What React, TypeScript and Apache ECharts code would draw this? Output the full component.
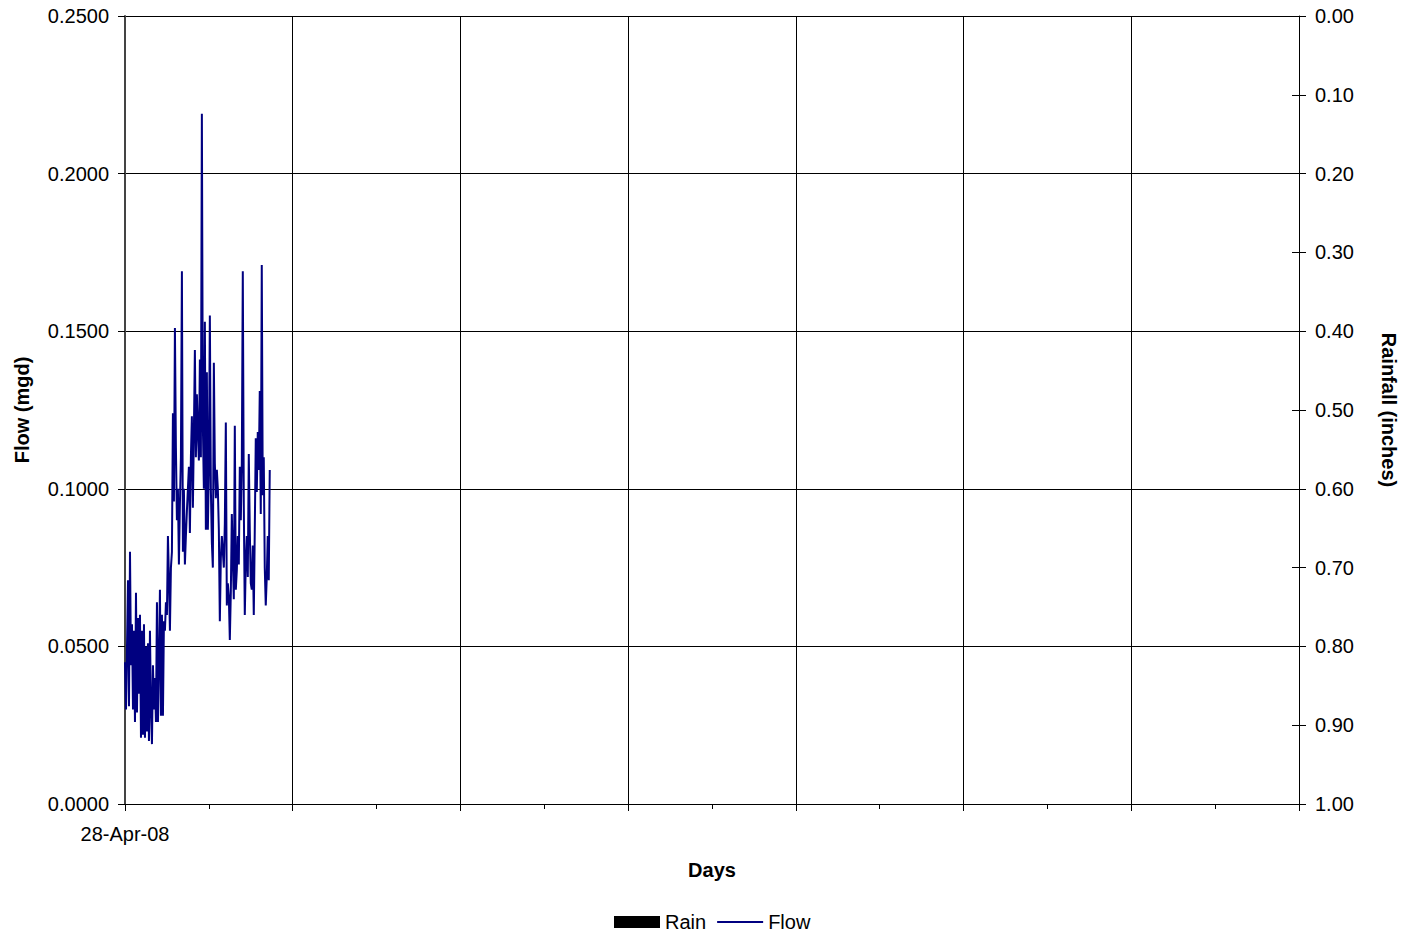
import React, { useEffect, useRef } from "react";
import * as echarts from "echarts";

// Hourly flow readings (mgd), starting 28-Apr-08 00:00
const flowValues: number[] = [
  0.045, 0.030, 0.050, 0.071, 0.031, 0.080, 0.044, 0.057, 0.030, 0.055,
  0.026, 0.067, 0.029, 0.059, 0.035, 0.060, 0.021, 0.055, 0.022, 0.057,
  0.021, 0.050, 0.023, 0.051, 0.020, 0.055, 0.030, 0.019, 0.044, 0.030,
  0.040, 0.026, 0.064, 0.026, 0.045, 0.068, 0.028, 0.060, 0.028, 0.058,
  0.055, 0.064, 0.060, 0.085, 0.072, 0.055, 0.075, 0.080, 0.124, 0.096,
  0.151, 0.113, 0.090, 0.100, 0.076, 0.095, 0.110, 0.169, 0.080, 0.100,
  0.076, 0.085, 0.093, 0.100, 0.107, 0.086, 0.110, 0.123, 0.094, 0.118,
  0.144, 0.110, 0.130, 0.118, 0.109, 0.141, 0.110, 0.219, 0.120, 0.100,
  0.153, 0.087, 0.137, 0.087, 0.106, 0.155, 0.100, 0.083, 0.075, 0.140,
  0.108, 0.097, 0.106, 0.100, 0.087, 0.058, 0.078, 0.085, 0.080, 0.075,
  0.089, 0.121, 0.063, 0.070, 0.066, 0.052, 0.067, 0.092, 0.078, 0.065,
  0.120, 0.068, 0.074, 0.085, 0.076, 0.107, 0.090, 0.108, 0.169, 0.095,
  0.060, 0.077, 0.085, 0.072, 0.111, 0.087, 0.070, 0.068, 0.082, 0.060,
  0.087, 0.116, 0.099, 0.118, 0.106, 0.131, 0.092, 0.171, 0.098, 0.110,
  0.075, 0.063, 0.072, 0.085, 0.071, 0.106,
];

// Daily rainfall (inches) – no rain recorded
const rainDays: number[] = [0, 1, 2, 3, 4, 5];
const rainValues: number[] = [0, 0, 0, 0, 0, 0];

const startLabel = "28-Apr-08";
const hoursPerDay = 24;
const axisDays = 49;
const majorDays = 7;

const flowTicks: number[] = [0, 0.05, 0.1, 0.15, 0.2, 0.25];
const rainTicks: number[] = [0, 0.1, 0.2, 0.3, 0.4, 0.5, 0.6, 0.7, 0.8, 0.9, 1.0];

export default function App() {
  const ref = useRef<HTMLDivElement>(null);
  useEffect(() => {
    document.body.style.margin = "0";
    const chart = echarts.init(ref.current!, null, { renderer: "svg" });
    const font = "Liberation Sans, Arial, sans-serif";
    const fs = 20;
    chart.setOption({
      animation: false,
      backgroundColor: "#ffffff",
      textStyle: { fontFamily: font },
      grid: { left: 125, right: 107, top: 16, bottom: 134, containLabel: false },
      legend: {
        left: 609,
        top: 907,
        itemWidth: 46,
        itemHeight: 12,
        itemGap: 10,
        textStyle: { fontSize: fs, color: "#000", fontFamily: font },
        data: [
          { name: "Rain", icon: "rect", itemStyle: { color: "#000" } },
          {
            name: "Flow",
            itemStyle: { opacity: 0 },
            lineStyle: { color: "#000080", width: 2, opacity: 1 },
          },
        ],
      },
      xAxis: {
        type: "value",
        min: 0,
        max: axisDays * hoursPerDay,
        interval: majorDays * hoursPerDay,
        name: "Days",
        nameLocation: "middle",
        nameGap: 56,
        nameTextStyle: { fontSize: fs, fontWeight: "bold", color: "#000", fontFamily: font },
        axisLine: { show: true, lineStyle: { color: "#000", width: 1 } },
        axisTick: { show: true, inside: false, length: 7, lineStyle: { color: "#000" } },
        minorTick: { show: true, splitNumber: 2, length: 5, lineStyle: { color: "#000" } },
        axisLabel: {
          margin: 20,
          fontSize: fs,
          color: "#000",
          fontFamily: font,
          formatter: (v: number) => (v === 0 ? startLabel : ""),
        },
        splitLine: { show: true, lineStyle: { color: "#000", width: 1 } },
      },
      yAxis: [
        {
          type: "value",
          min: flowTicks[0],
          max: flowTicks[flowTicks.length - 1],
          interval: 0.05,
          name: "Flow (mgd)",
          nameLocation: "middle",
          nameGap: 93,
          nameRotate: 90,
          nameTextStyle: { fontSize: fs, fontWeight: "bold", color: "#000", fontFamily: font },
          axisLine: { show: true, lineStyle: { color: "#444", width: 2 } },
          axisTick: { show: true, inside: false, length: 7, lineStyle: { color: "#000" } },
          axisLabel: {
            margin: 16,
            fontSize: fs,
            color: "#000",
            fontFamily: font,
            formatter: (v: number) => v.toFixed(4),
          },
          splitLine: { show: true, lineStyle: { color: "#000", width: 1 } },
        },
        {
          type: "value",
          min: rainTicks[0],
          max: rainTicks[rainTicks.length - 1],
          interval: 0.1,
          inverse: true,
          position: "right",
          offset: 0,
          name: "Rainfall (inches)",
          nameLocation: "middle",
          nameGap: 80,
          nameRotate: -90,
          nameTextStyle: { fontSize: fs, fontWeight: "bold", color: "#000", fontFamily: font },
          axisLine: { show: true, lineStyle: { color: "#000", width: 1 } },
          axisTick: { show: true, inside: false, length: 7, lineStyle: { color: "#000" } },
          axisLabel: {
            margin: 16,
            fontSize: fs,
            color: "#000",
            fontFamily: font,
            formatter: (v: number) => v.toFixed(2),
          },
          splitLine: { show: false },
        },
        {
          // inner half of the crossing ticks on the rainfall axis
          type: "value",
          min: rainTicks[0],
          max: rainTicks[rainTicks.length - 1],
          interval: 0.1,
          inverse: true,
          position: "right",
          offset: 0,
          axisLine: { show: false },
          axisTick: { show: true, inside: true, length: 7, lineStyle: { color: "#000" } },
          axisLabel: { show: false },
          splitLine: { show: false },
        },
      ],
      series: [
        {
          name: "Rain",
          type: "bar",
          yAxisIndex: 1,
          itemStyle: { color: "#000" },
          barWidth: 20,
          data: rainDays.map((d, i) => [d * hoursPerDay, rainValues[i]]),
        },
        {
          name: "Flow",
          type: "line",
          yAxisIndex: 0,
          showSymbol: false,
          symbol: "none",
          color: "#000080",
          lineStyle: { color: "#000080", width: 2 },
          data: flowValues.map((v, i) => [i, v]),
        },
      ],
    });
    return () => chart.dispose();
  }, []);
  return <div ref={ref} style={{ width: 1407, height: 938 }} />;
}
